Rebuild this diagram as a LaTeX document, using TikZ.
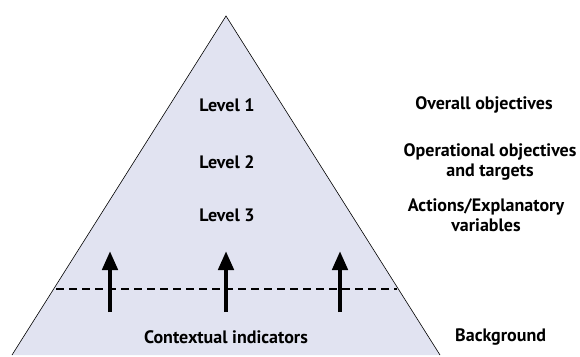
\documentclass[tikz,border=0pt]{standalone}
\usepackage{fontspec}
\setmainfont{PT Sans}
\usetikzlibrary{arrows.meta}
\definecolor{tri}{HTML}{E1E3F1}
\begin{document}
\begin{tikzpicture}[x=1pt,y=-1pt,
  lbl/.style={font=\bfseries\fontsize{18}{20}\selectfont, align=center, inner sep=0pt},
  uparrow/.style={line width=4.5pt, -{Triangle[length=19pt,width=15pt]}}]
\useasboundingbox (0,0) rectangle (580,356);
\coordinate (L) at (12,355);
\coordinate (A) at (226,16);
\coordinate (R) at (440,355);
\draw[fill=tri, line width=0.6pt] (L) -- (A) -- (R);
\coordinate (dl) at (56,289);
\coordinate (dr) at (397,289);
\draw[dash pattern=on 8pt off 5pt, line width=1.1pt] (dl) -- (dr);
\foreach \x/\n in {110/a,226/b,340/c}{
  \coordinate (s\n) at (\x,312);
  \coordinate (t\n) at (\x,251);
  \draw[uparrow] (s\n) -- (t\n);
}
\node[lbl] (l1) at (227,105) {Level 1};
\node[lbl] (l2) at (227,162) {Level 2};
\node[lbl] (l3) at (227,215) {Level 3};
\node[lbl] (ci) at (226,337) {Contextual indicators};
\node[lbl] (r1) at (484,105) {Overall objectives};
\node[lbl] (r2) at (490,162) {Operational objectives\\and targets};
\node[lbl] (r3) at (486,215) {Actions/Explanatory\\variables};
\node[lbl, anchor=west] (r4) at (455,337) {Background};
\end{tikzpicture}
\end{document}
